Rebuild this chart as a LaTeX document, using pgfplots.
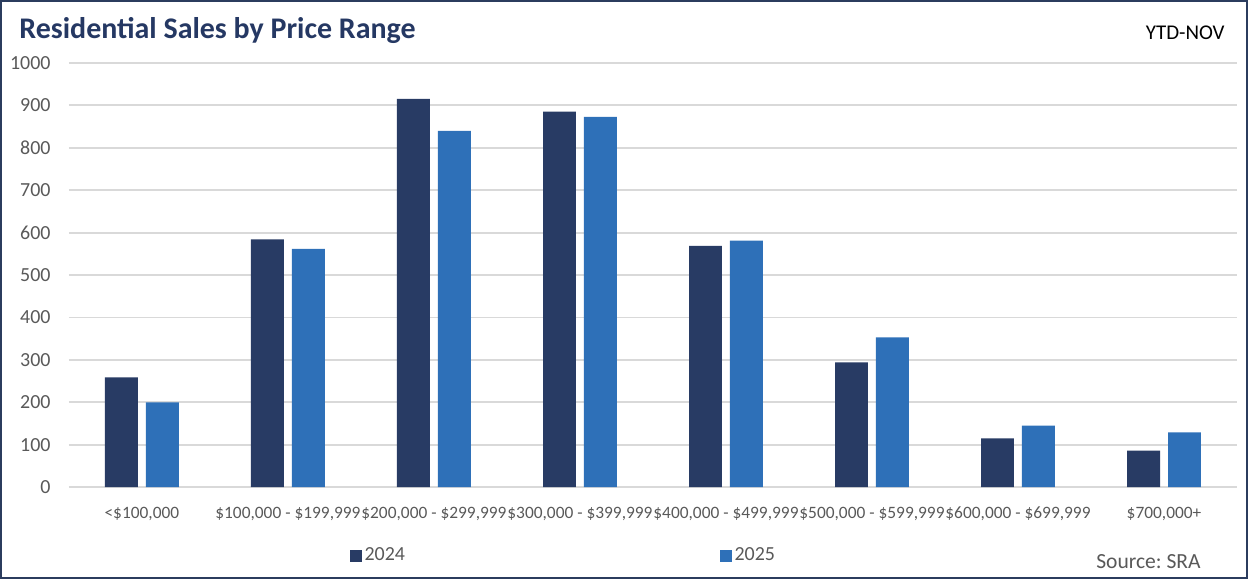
\documentclass[border=0pt]{standalone}
\usepackage{fontspec}
\setmainfont{Carlito}
\usepackage{pgfplots}
\pgfplotsset{compat=1.18}

\definecolor{navy}{RGB}{40,59,100}
\definecolor{midblue}{RGB}{46,112,184}
\definecolor{titleblue}{RGB}{37,56,99}
\definecolor{txtgray}{RGB}{89,89,89}
\definecolor{gridgray}{RGB}{217,217,217}
\definecolor{framecol}{RGB}{43,60,94}

\begin{document}
\begin{tikzpicture}
  % outer frame, 1px = 0.5pt
  \draw[framecol, line width=1pt] (0,0) rectangle (624pt,289pt);

  \node[anchor=base west, inner sep=0pt, text=titleblue,
        font=\fontsize{15}{18}\selectfont\bfseries] at (9pt,270pt) {Residential Sales by Price Range};
  \node[anchor=base east, inner sep=0pt,
        font=\fontsize{10.5}{12}\selectfont] at (613pt,269.5pt) {YTD-NOV};
  \node[anchor=base east, inner sep=0pt, text=txtgray,
        font=\fontsize{10.8}{12}\selectfont] at (601pt,4.7pt) {Source:\ SRA};

  \begin{axis}[
    at={(34pt,45.5pt)}, anchor=south west,
    scale only axis,
    width=585pt, height=212.5pt,
    ybar=4pt, bar width=16.5pt,
    xmin=-0.5, xmax=7.5,
    ymin=0, ymax=1000,
    ytick={0,100,...,1000},
    xtick={0,...,7},
    xticklabels={{<\$100,000},{\$100,000 - \$199,999},{\$200,000 - \$299,999},{\$300,000 - \$399,999},
                 {\$400,000 - \$499,999},{\$500,000 - \$599,999},{\$600,000 - \$699,999},{\$700,000+}},
    axis line style={draw=none},
    tick style={draw=none},
    ymajorgrids,
    grid style={gridgray, line width=0.9pt},
    /pgf/number format/1000 sep={},
    /pgf/number format/assume math mode=true,
    yticklabel style={font=\fontsize{10}{12}\selectfont, text=txtgray, inner sep=0pt, anchor=east, xshift=-9pt},
    xticklabel style={font=\fontsize{8.7}{10}\selectfont, text=txtgray, inner sep=0pt, anchor=north, yshift=-5.5pt},
    legend columns=2,
    legend image code/.code={\fill[#1] (0pt,-3pt) rectangle (6pt,3pt);},
    legend style={draw=none, fill=none, inner sep=0pt,
                  at={(0.240,-0.162)}, anchor=west,
                  font=\fontsize{10}{12}\selectfont, text=txtgray,
                  nodes={inner sep=1.5pt},
                  /tikz/every even column/.append style={column sep=156pt}},
  ]
    \addplot[fill=navy, draw=none] coordinates {
      (0,259) (1,584) (2,915) (3,885) (4,569) (5,294) (6,115) (7,86)
    };
    \addplot[fill=midblue, draw=none] coordinates {
      (0,200) (1,562) (2,840) (3,873) (4,581) (5,353) (6,145) (7,129)
    };
    \legend{2024,2025}
  \end{axis}
\end{tikzpicture}
\end{document}
